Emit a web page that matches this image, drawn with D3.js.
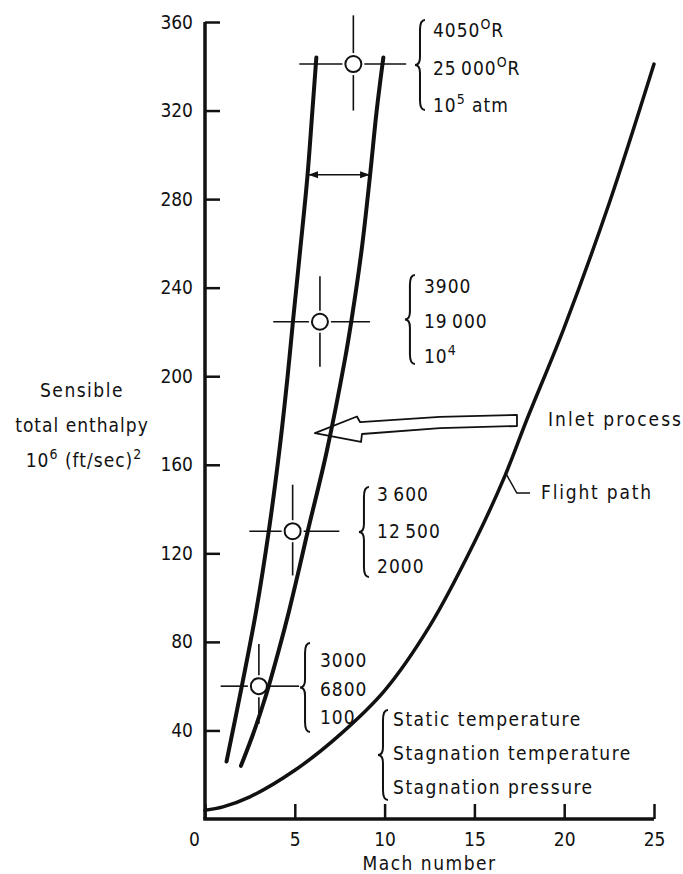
<!DOCTYPE html>
<html>
<head>
<meta charset="utf-8">
<script src="https://cdn.jsdelivr.net/npm/d3@7"></script>
<style>
  body { margin: 0; background: #fff; }
  svg { display: block; background: #fff; }
  text { font-family: "DejaVu Sans Condensed", "DejaVu Sans", sans-serif; font-size: 19px; fill: #111; letter-spacing: 1px; }
</style>
</head>
<body>
<svg id="chart" width="683" height="874"></svg>
<script>
const svg = d3.select("#chart");
const width = +svg.attr("width");
const height = +svg.attr("height");

// axis values
const machTicks = [0, 5, 10, 15, 20, 25];
const enthalpyTicks = [40, 80, 120, 160, 200, 240, 280, 320, 360];

// flight path (Mach number vs sensible total enthalpy)
const flightMach = [0, 1, 2.5, 5, 7.5, 10, 12.5, 15, 16.7, 17.9, 20, 22.5, 25];
const flightEnthalpy = [4, 5.5, 10, 22, 38, 58, 87, 125, 155, 180, 222, 278, 341];

// inlet band, left edge
const bandLeftMach = [1.2, 2.05, 2.85, 3.55, 4.15, 4.6, 4.9, 5.3, 5.7, 5.98, 6.2];
const bandLeftEnthalpy = [26, 60, 94, 130, 167, 200, 225, 257, 290, 320, 344];

// inlet band, right edge
const bandRightMach = [2.0, 2.75, 3.4, 4.1, 4.68, 5.24, 5.72, 6.75, 7.8, 8.15, 8.72, 9.18, 9.56, 9.93];
const bandRightEnthalpy = [24, 40, 56, 76, 94, 113, 130, 165, 208, 225, 257, 290, 320, 344];

// marked states with their cross bars
const pointMach = [3.0, 4.88, 6.4, 8.26];
const pointEnthalpy = [60, 130, 224.6, 341];
const pointMachLow = [0.87, 2.47, 3.8, 5.25];
const pointMachHigh = [5.24, 7.48, 9.19, 11.2];
const pointEnthalpyLow = [43, 110, 204.3, 320];
const pointEnthalpyHigh = [79, 151, 245.2, 363];

// state labels ({..} = superscript)
const staticTemp = ["3000", "3\u2009600", "3900", "4050{O}R"];
const stagnationTemp = ["6800", "12\u2009500", "19\u2009000", "25\u2009000{O}R"];
const stagnationPressure = ["100", "2000", "10{4}", "10{5} atm"];
const legendLines = ["Static temperature", "Stagnation temperature", "Stagnation pressure"];

// width arrow across the band
const bandArrowMach = [5.75, 9.19];
const bandArrowEnthalpy = 291;

// hollow "Inlet process" arrow outline
const inletArrowMach = [17.37, 13.08, 8.63, 8.46, 6.12, 8.69, 8.74, 13.08, 17.37];
const inletArrowEnthalpy = [182.5, 181.6, 179.3, 181.8, 174.3, 170.3, 173.9, 176.6, 177.5];

// where each label group sits: brace position, text position, baselines
const groupLayout = [
    { brace: 5.57, top: 79.5, bottom: 39.3, textAt: 6.40, rows: [68.7, 55.6, 42.9] },
    { brace: 8.85, top: 150, bottom: 109.3, textAt: 9.58, rows: [143.6, 126.9, 111.1] },
    { brace: 11.41, top: 245.7, bottom: 205.5, textAt: 12.19, rows: [237.6, 221.8, 206.0] },
    { brace: 11.97, top: 360.9, bottom: 320.2, textAt: 12.69, rows: [353.4, 336.0, 319.5] }
];
const legendLayout = { brace: 9.91, top: 49.2, bottom: 8.6, textAt: 10.47, rows: [42.0, 26.6, 11.3] };

const x = d3.scaleLinear().domain([0, 25]).range([205, 654]);
const y = d3.scaleLinear().domain([0, 360]).range([819, 22]);

const zip = (xs, ys) => xs.map((v, i) => [v, ys[i]]);
const line = d3.line().x(d => x(d[0])).y(d => y(d[1])).curve(d3.curveCatmullRom.alpha(0.5));

// text with raised parts
const addRichText = (sel, str) => {
    const parts = str.split(/(\{[^}]*\})/).filter(s => s.length);
    let raised = false;
    parts.forEach(p => {
        if (p[0] === "{") {
            sel.append("tspan").attr("dy", -8).style("font-size", "14px").text(p.slice(1, -1));
            raised = true;
        } else {
            sel.append("tspan").attr("dy", raised ? 8 : 0).text(p);
            raised = false;
        }
    });
};

// curly brace, opening to the right
const bracePath = (bx, top, bottom) => {
    const w = 5, mid = (top + bottom) / 2;
    return `M${bx + w},${top} Q${bx},${top} ${bx},${top + 10} L${bx},${mid - 8} ` +
        `Q${bx},${mid} ${bx - w},${mid} Q${bx},${mid} ${bx},${mid + 8} ` +
        `L${bx},${bottom - 10} Q${bx},${bottom} ${bx + w},${bottom}`;
};

const defs = svg.append("defs");
defs.append("marker")
    .attr("id", "head")
    .attr("viewBox", "0 0 10 8")
    .attr("refX", 10).attr("refY", 4)
    .attr("markerWidth", 10).attr("markerHeight", 8)
    .attr("markerUnits", "userSpaceOnUse")
    .attr("orient", "auto-start-reverse")
    .append("path")
    .attr("d", "M0,0.5 L10,4 L0,7.5 Z")
    .attr("fill", "#111");

//y-axis
const leftAxis = d3.axisLeft(y).tickValues(enthalpyTicks).tickSize(-15).tickSizeOuter(0).tickPadding(12);
const gy = svg.append("g")
    .attr("transform", "translate(" + x(0) + ",0)")
    .call(leftAxis);
gy.select(".domain").attr("stroke", "#111").attr("stroke-width", 3.5)
    .attr("d", "M0," + y(0) + "V" + y(360));
gy.selectAll(".tick line").attr("stroke", "#111").attr("stroke-width", 2.5);

//x-axis
const bottomAxis = d3.axisBottom(x).tickValues(machTicks).tickSize(-15).tickSizeOuter(0).tickPadding(14);
const gx = svg.append("g")
    .attr("transform", "translate(0," + y(0) + ")")
    .call(bottomAxis);
gx.select(".domain").attr("stroke", "#111").attr("stroke-width", 3.5)
    .attr("d", "M" + (x(0) - 1.75) + ",0H" + x(25));
gx.selectAll(".tick line").attr("stroke", "#111").attr("stroke-width", 2.5);
gx.selectAll(".tick text").attr("dx", d => d === 0 ? -11 : 0);
svg.selectAll(".tick text").style("letter-spacing", "0px");

//axis titles
svg.append("text")
    .attr("x", x(12.5)).attr("y", 870)
    .attr("text-anchor", "middle")
    .style("letter-spacing", "1.5px")
    .text("Mach number");

const yTitle = svg.append("text").attr("text-anchor", "middle");
yTitle.append("tspan").attr("x", 82).attr("y", 397).style("letter-spacing", "1.5px").text("Sensible");
yTitle.append("tspan").attr("x", 82).attr("y", 432).text("total enthalpy");
const yUnits = svg.append("text").attr("x", 84).attr("y", 467).attr("text-anchor", "middle");
addRichText(yUnits, "10{6} (ft/sec){2}");

// hollow arrow for the inlet process
svg.append("path")
    .attr("d", d3.line().x(d => x(d[0])).y(d => y(d[1]))(zip(inletArrowMach, inletArrowEnthalpy)) + "Z")
    .attr("fill", "none")
    .attr("stroke", "#111")
    .attr("stroke-width", 1.8)
    .attr("stroke-linejoin", "round");

// curves
[[flightMach, flightEnthalpy, 3.5], [bandLeftMach, bandLeftEnthalpy, 4], [bandRightMach, bandRightEnthalpy, 4]]
    .forEach(c => {
        svg.append("path")
            .attr("d", line(zip(c[0], c[1])))
            .attr("fill", "none")
            .attr("stroke", "#111")
            .attr("stroke-width", c[2])
            .attr("stroke-linecap", "round");
    });

// band width arrow
svg.append("line")
    .attr("x1", x(bandArrowMach[0])).attr("x2", x(bandArrowMach[1]))
    .attr("y1", y(bandArrowEnthalpy)).attr("y2", y(bandArrowEnthalpy))
    .attr("stroke", "#111").attr("stroke-width", 1.5)
    .attr("marker-start", "url(#head)").attr("marker-end", "url(#head)");

// cross bars and circles
const r = 8, gap = 11;
const states = pointMach.map((m, i) => ({
    m: m, h: pointEnthalpy[i],
    mLo: pointMachLow[i], mHi: pointMachHigh[i],
    hLo: pointEnthalpyLow[i], hHi: pointEnthalpyHigh[i]
}));
const marks = svg.append("g").attr("stroke", "#111").attr("stroke-width", 1.6);
states.forEach(d => {
    const cx = x(d.m), cy = y(d.h);
    marks.append("line").attr("x1", x(d.mLo)).attr("x2", cx - gap).attr("y1", cy).attr("y2", cy);
    marks.append("line").attr("x1", cx + gap).attr("x2", x(d.mHi)).attr("y1", cy).attr("y2", cy);
    marks.append("line").attr("x1", cx).attr("x2", cx).attr("y1", y(d.hHi)).attr("y2", cy - gap);
    marks.append("line").attr("x1", cx).attr("x2", cx).attr("y1", cy + gap).attr("y2", y(d.hLo));
});
svg.selectAll("circle.state")
    .data(states)
    .enter()
    .append("circle")
    .attr("class", "state")
    .attr("cx", d => x(d.m))
    .attr("cy", d => y(d.h))
    .attr("r", r)
    .attr("fill", "#fff")
    .attr("stroke", "#111")
    .attr("stroke-width", 2);

// label groups with braces
const drawGroup = (layout, lines, spacing) => {
    svg.append("path")
        .attr("d", bracePath(x(layout.brace), y(layout.top), y(layout.bottom)))
        .attr("fill", "none")
        .attr("stroke", "#111")
        .attr("stroke-width", 2);
    lines.forEach((s, k) => {
        const t = svg.append("text").attr("x", x(layout.textAt)).attr("y", y(layout.rows[k]))
            .style("letter-spacing", spacing + "px");
        addRichText(t, s);
    });
};
groupLayout.forEach((g, i) => {
    drawGroup(g, [staticTemp[i], stagnationTemp[i], stagnationPressure[i]], 1);
});
drawGroup(legendLayout, legendLines, 1.5);

// curve labels
svg.append("text").attr("x", x(19.1)).attr("y", y(177.5)).style("letter-spacing", "2px").text("Inlet process");
svg.append("text").attr("x", x(18.71)).attr("y", y(144.5)).style("letter-spacing", "1.8px").text("Flight path");
svg.append("path")
    .attr("d", d3.line().x(d => x(d[0])).y(d => y(d[1]))([[16.8, 155.4], [17.36, 147.2], [18.1, 147.2]]))
    .attr("fill", "none")
    .attr("stroke", "#111")
    .attr("stroke-width", 1.5);
</script>
</body>
</html>
